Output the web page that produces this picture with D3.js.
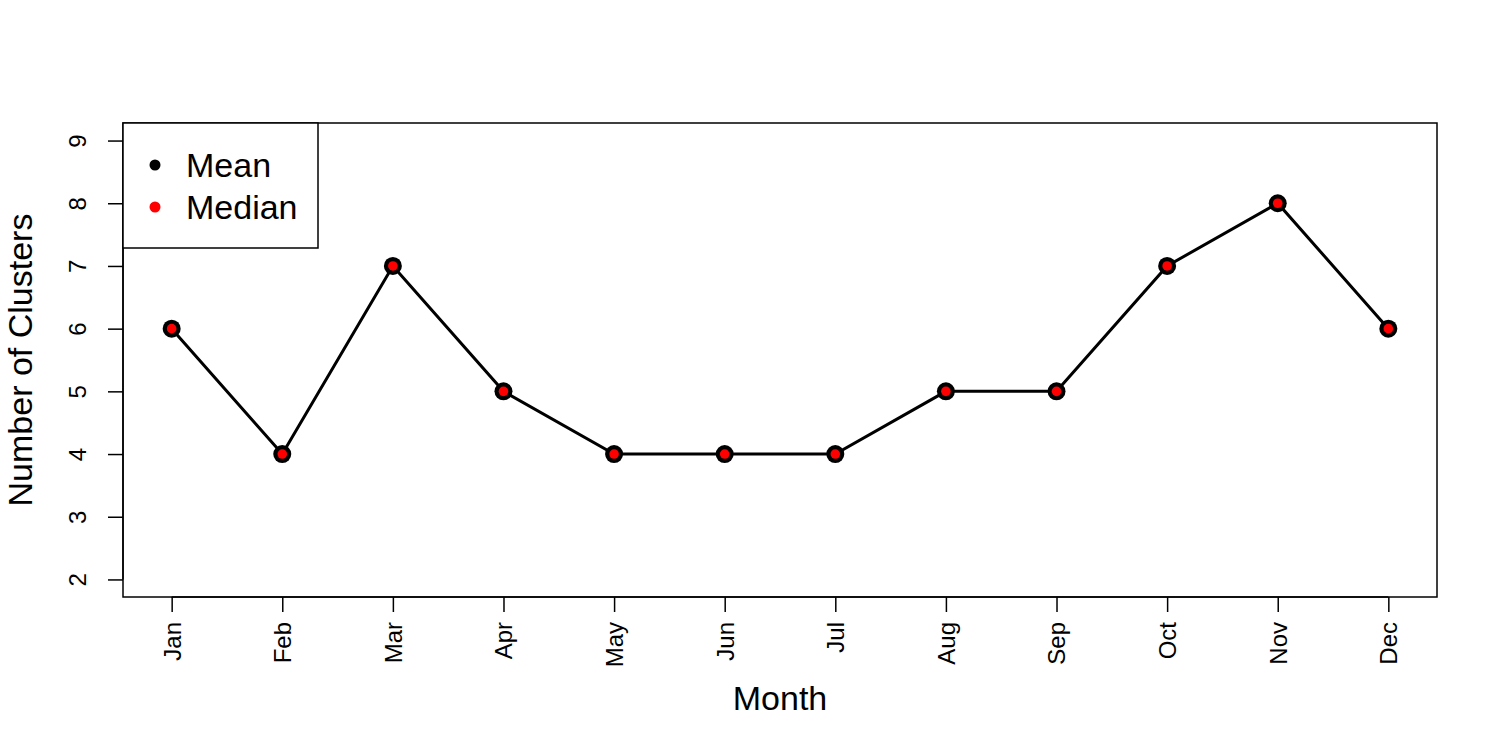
<!DOCTYPE html>
<meta charset="utf-8">
<style>
    body { margin: 0; background: #fff; }
    text { font-family: "Liberation Sans", Arial, sans-serif; fill: #000; }
    .tick text { font-size: 24px; }
    .title { font-size: 34px; }
</style>
<body>
<script src="https://d3js.org/d3.v7.min.js"></script>
<script>
// data
var months = ["Jan", "Feb", "Mar", "Apr", "May", "Jun", "Jul", "Aug", "Sep", "Oct", "Nov", "Dec"];
var meanClusters = [6, 4, 7, 5, 4, 4, 4, 5, 5, 7, 8, 6];
var medianClusters = [6, 4, 7, 5, 4, 4, 4, 5, 5, 7, 8, 6];
var yTicks = [2, 3, 4, 5, 6, 7, 8, 9];

var width = 1500, height = 750;
var plot = {left: 123, right: 1437, top: 123, bottom: 597};

var svg = d3.select("body").append("svg")
    .attr("width", width)
    .attr("height", height);

// R style 4% padding on both axes
var x = d3.scaleLinear()
    .domain([1 - 11 * 0.04, 12 + 11 * 0.04])
    .range([plot.left, plot.right]);
var y = d3.scaleLinear()
    .domain([2 - 7 * 0.04, 9 + 7 * 0.04])
    .range([plot.bottom, plot.top]);

// x axis with rotated month labels
var xAxis = svg.append("g")
    .attr("transform", "translate(0," + plot.bottom + ")")
    .call(d3.axisBottom(x)
        .tickValues(d3.range(1, 13))
        .tickFormat(function(d) { return months[d - 1]; })
        .tickSize(15)
        .tickSizeOuter(0));
xAxis.select(".domain").attr("d", "M" + x(1) + ",0H" + x(12)).attr("stroke-width", 1.5);
xAxis.selectAll(".tick line").attr("stroke-width", 1.5);
xAxis.selectAll(".tick text")
    .attr("transform", "rotate(-90)")
    .attr("x", -25)
    .attr("y", 0)
    .attr("dy", "0.35em")
    .style("text-anchor", "end");

// y axis, labels parallel to axis
var yAxis = svg.append("g")
    .attr("transform", "translate(" + plot.left + ",0)")
    .call(d3.axisLeft(y)
        .tickValues(yTicks)
        .tickFormat(d3.format("d"))
        .tickSize(15)
        .tickSizeOuter(0));
yAxis.select(".domain").attr("d", "M0," + y(2) + "V" + y(9)).attr("stroke-width", 1.5);
yAxis.selectAll(".tick line").attr("stroke-width", 1.5);
yAxis.selectAll(".tick text")
    .attr("transform", "rotate(-90)")
    .attr("x", 0)
    .attr("y", -37)
    .attr("dy", 0)
    .style("text-anchor", "middle");

// plot box
svg.append("rect")
    .attr("x", plot.left)
    .attr("y", plot.top)
    .attr("width", plot.right - plot.left)
    .attr("height", plot.bottom - plot.top)
    .attr("fill", "none")
    .attr("stroke", "#000")
    .attr("stroke-width", 1.5);

// axis titles
svg.append("text")
    .attr("class", "title")
    .attr("x", (plot.left + plot.right) / 2)
    .attr("y", 710)
    .attr("text-anchor", "middle")
    .text("Month");
svg.append("text")
    .attr("class", "title")
    .attr("transform", "translate(32," + (plot.top + plot.bottom) / 2 + ") rotate(-90)")
    .attr("text-anchor", "middle")
    .text("Number of Clusters");

// line through the means
var line = d3.line()
    .x(function(d, i) { return x(i + 1); })
    .y(function(d) { return y(d); });

svg.append("path")
    .datum(meanClusters)
    .attr("d", line)
    .attr("fill", "none")
    .attr("stroke", "#000")
    .attr("stroke-width", 3);

// mean points
svg.selectAll(".mean")
    .data(meanClusters)
    .enter().append("circle")
    .attr("class", "mean")
    .attr("cx", function(d, i) { return x(i + 1); })
    .attr("cy", function(d) { return y(d); })
    .attr("r", 9)
    .attr("fill", "#000");

// median points
svg.selectAll(".median")
    .data(medianClusters)
    .enter().append("circle")
    .attr("class", "median")
    .attr("cx", function(d, i) { return x(i + 1); })
    .attr("cy", function(d) { return y(d); })
    .attr("r", 4.8)
    .attr("fill", "#ff0000");

// legend
var legendItems = [{label: "Mean", color: "#000"}, {label: "Median", color: "#ff0000"}];
var legend = svg.append("g");
legend.append("rect")
    .attr("x", plot.left)
    .attr("y", plot.top)
    .attr("width", 195)
    .attr("height", 125)
    .attr("fill", "#fff")
    .attr("stroke", "#000")
    .attr("stroke-width", 1.5);
var item = legend.selectAll(".item")
    .data(legendItems)
    .enter().append("g")
    .attr("transform", function(d, i) { return "translate(0," + (165 + i * 42) + ")"; });
item.append("circle")
    .attr("cx", 155)
    .attr("r", 5.5)
    .attr("fill", function(d) { return d.color; });
item.append("text")
    .attr("class", "title")
    .attr("x", 186)
    .attr("dy", "0.35em")
    .text(function(d) { return d.label; });
</script>
</body>
